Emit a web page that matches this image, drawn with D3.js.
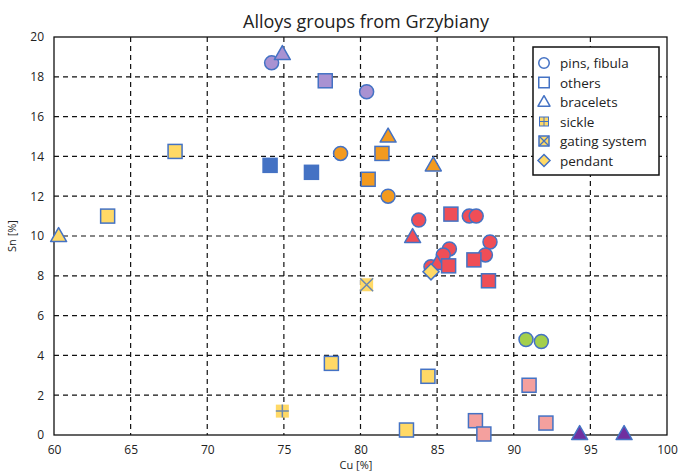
<!DOCTYPE html>
<html>
<head>
<meta charset="utf-8">
<script src="https://cdn.jsdelivr.net/npm/d3@7"></script>
<style>
  body { margin: 0; background: #fff; }
  text { font-family: "Open Sans", "Noto Sans", sans-serif; fill: #222; }
</style>
</head>
<body>
<svg id="chart" width="680" height="472"></svg>
<script>
/* axes */
var xTicks = [60, 65, 70, 75, 80, 85, 90, 95, 100];
var yTicks = [0, 2, 4, 6, 8, 10, 12, 14, 16, 18, 20];

/* legend */
var legendShapes = ["circle", "square", "triangle", "sickle", "gating", "diamond"];
var legendLabels = ["pins, fibula", "others", "bracelets", "sickle", "gating system", "pendant"];

/* points per group : [shape, Cu, Sn] */
var lilacPts = [["circle", 74.2, 18.7], ["triangle", 74.9, 19.15], ["square", 77.7, 17.8], ["circle", 80.4, 17.25]];
var orangePts = [["triangle", 81.8, 15.0], ["triangle", 84.75, 13.55], ["circle", 78.7, 14.15], ["square", 81.4, 14.15],
                 ["square", 80.5, 12.85], ["circle", 81.8, 12.0]];
var bluePts = [["square", 74.1, 13.55], ["square", 76.8, 13.2]];
var redPts = [["circle", 83.8, 10.8], ["triangle", 83.4, 9.95], ["square", 85.9, 11.1], ["circle", 87.1, 11.0],
              ["circle", 87.55, 11.0], ["circle", 88.45, 9.7], ["circle", 85.8, 9.35], ["circle", 85.4, 9.05],
              ["circle", 88.15, 9.05], ["square", 87.4, 8.8], ["circle", 84.6, 8.45], ["triangle", 85.0, 8.6],
              ["square", 85.75, 8.5], ["square", 88.35, 7.75]];
var yellowPts = [["triangle", 60.3, 10.0], ["square", 63.5, 11.0], ["square", 67.9, 14.25], ["square", 78.1, 3.6],
                 ["square", 84.4, 2.95], ["square", 83.0, 0.25], ["sickle", 74.9, 1.2], ["gating", 80.4, 7.55],
                 ["diamond", 84.6, 8.2]];
var greenPts = [["circle", 90.8, 4.8], ["circle", 91.8, 4.7]];
var pinkPts = [["square", 91.0, 2.5], ["square", 87.5, 0.72], ["square", 88.05, 0.05], ["square", 92.1, 0.6]];
var violetPts = [["triangle", 94.3, 0.05], ["triangle", 97.2, 0.05]];

var groups = [
    {pts: lilacPts, fill: "#a992d2"},
    {pts: orangePts, fill: "#f39a1f"},
    {pts: bluePts, fill: "#4472c4"},
    {pts: greenPts, fill: "#a3cf4c"},
    {pts: pinkPts, fill: "#f4a09e"},
    {pts: violetPts, fill: "#7030a0"},
    {pts: redPts, fill: "#ef4e57"},
    {pts: yellowPts, fill: "#ffd966"}
];

var W = 680, H = 472;
var m = {left: 54, right: 13, top: 37, bottom: 37};
var svg = d3.select("#chart");

var x = d3.scaleLinear().domain([60, 100]).range([m.left, W - m.right]);
var y = d3.scaleLinear().domain([0, 20]).range([H - m.bottom, m.top]);

/* titre */
svg.append("text")
    .attr("x", 366).attr("y", 28)
    .attr("text-anchor", "middle")
    .attr("font-size", 18)
    .text("Alloys groups from Grzybiany");

/* grille pointillée */
svg.append("g").selectAll("line")
    .data(xTicks.slice(1, -1))
    .enter().append("line")
    .attr("x1", function (d) { return x(d); })
    .attr("x2", function (d) { return x(d); })
    .attr("y1", y(20)).attr("y2", y(0))
    .attr("stroke", "#111").attr("stroke-width", 1.2)
    .attr("stroke-dasharray", "5,4");
svg.append("g").selectAll("line")
    .data(yTicks.slice(1, -1))
    .enter().append("line")
    .attr("y1", function (d) { return y(d); })
    .attr("y2", function (d) { return y(d); })
    .attr("x1", x(60)).attr("x2", x(100))
    .attr("stroke", "#111").attr("stroke-width", 1.2)
    .attr("stroke-dasharray", "5,4");

/* cadre */
svg.append("rect")
    .attr("x", x(60)).attr("y", y(20))
    .attr("width", x(100) - x(60)).attr("height", y(0) - y(20))
    .attr("fill", "none").attr("stroke", "#111").attr("stroke-width", 1.3);

/* axes */
var xAxis = svg.append("g")
    .attr("transform", "translate(0," + y(0) + ")")
    .call(d3.axisBottom(x).tickValues(xTicks).tickSize(0).tickPadding(10));
var yAxis = svg.append("g")
    .attr("transform", "translate(" + x(60) + ",0)")
    .call(d3.axisLeft(y).tickValues(yTicks).tickSize(0).tickPadding(10));
[xAxis, yAxis].forEach(function (a) {
    a.select(".domain").remove();
    a.selectAll("text").attr("font-size", 12).attr("fill", "#222")
        .attr("font-family", "'Open Sans', 'Noto Sans', sans-serif");
});

svg.append("text")
    .attr("x", 356).attr("y", 469)
    .attr("text-anchor", "middle").attr("font-size", 11)
    .text("Cu [%]");
svg.append("text")
    .attr("transform", "translate(16," + (y(10)) + ") rotate(-90)")
    .attr("text-anchor", "middle").attr("font-size", 11)
    .text("Sn [%]");

/* dessine un marqueur */
function marker(g, shape, fill, s) {
    var stroke = "#4472c4";
    if (shape == "circle") {
        g.append("circle").attr("r", 7 * s).attr("fill", fill).attr("stroke", stroke).attr("stroke-width", 1.5);
    } else if (shape == "square") {
        g.append("rect").attr("x", -7 * s).attr("y", -7 * s).attr("width", 14 * s).attr("height", 14 * s)
            .attr("fill", fill).attr("stroke", stroke).attr("stroke-width", 1.5);
    } else if (shape == "triangle") {
        var h = 14 * s, w = 16 * s;
        g.append("path").attr("d", "M0," + (-h * 0.6) + "L" + (w / 2) + "," + (h * 0.4) + "L" + (-w / 2) + "," + (h * 0.4) + "Z")
            .attr("fill", fill).attr("stroke", stroke).attr("stroke-width", 1.5).attr("stroke-linejoin", "round");
    } else if (shape == "diamond") {
        var r = 8 * s;
        g.append("path").attr("d", "M0," + (-r) + "L" + r + ",0L0," + r + "L" + (-r) + ",0Z")
            .attr("fill", "#ffd966").attr("stroke", stroke).attr("stroke-width", 1.5);
    } else if (shape == "sickle") {
        var a = 6.5 * s;
        g.append("rect").attr("x", -a).attr("y", -a).attr("width", 2 * a).attr("height", 2 * a).attr("fill", "#ffd966");
        g.append("path").attr("d", "M0," + (-a) + "V" + a + "M" + (-a) + ",0H" + a)
            .attr("stroke", "#6b88b0").attr("stroke-width", 1.5);
    } else if (shape == "gating") {
        var b = 6.5 * s;
        g.append("rect").attr("x", -b).attr("y", -b).attr("width", 2 * b).attr("height", 2 * b).attr("fill", "#ffd966");
        g.append("path").attr("d", "M" + (-b) + "," + (-b) + "L" + b + "," + b + "M" + b + "," + (-b) + "L" + (-b) + "," + b)
            .attr("stroke", "#6b88b0").attr("stroke-width", 1.5);
    }
}

/* points */
groups.forEach(function (grp) {
    svg.append("g").selectAll("g")
        .data(grp.pts)
        .enter().append("g")
        .attr("transform", function (d) { return "translate(" + x(d[1]) + "," + y(d[2]) + ")"; })
        .each(function (d) { marker(d3.select(this), d[0], grp.fill, 1); });
});

/* légende */
var leg = svg.append("g").attr("transform", "translate(533,47)");
leg.append("rect").attr("width", 126).attr("height", 128)
    .attr("fill", "#fff").attr("stroke", "#111").attr("stroke-width", 1.5);
var items = leg.selectAll("g.item")
    .data(legendShapes)
    .enter().append("g")
    .attr("class", "item")
    .attr("transform", function (d, i) { return "translate(11," + (16 + i * 19.5) + ")"; });
items.each(function (d) {
    var g = d3.select(this);
    if (d == "sickle") {
        g.append("rect").attr("x", -5).attr("y", -5).attr("width", 10).attr("height", 10).attr("fill", "#4472c4");
        [[-4, -4], [0.5, -4], [-4, 0.5], [0.5, 0.5]].forEach(function (c) {
            g.append("rect").attr("x", c[0]).attr("y", c[1]).attr("width", 3.5).attr("height", 3.5).attr("fill", "#ffd966");
        });
    } else if (d == "gating") {
        g.append("rect").attr("x", -5).attr("y", -5).attr("width", 10).attr("height", 10)
            .attr("fill", "#ffd966").attr("stroke", "#4472c4").attr("stroke-width", 1.5);
        g.append("path").attr("d", "M-5,-5L5,5M5,-5L-5,5").attr("stroke", "#4472c4").attr("stroke-width", 1.3);
    } else {
        marker(g, d, "#fff", 0.75);
    }
});
items.append("text")
    .attr("x", 16).attr("y", 5)
    .attr("font-size", 13.5)
    .text(function (d, i) { return legendLabels[i]; });
</script>
</body>
</html>
